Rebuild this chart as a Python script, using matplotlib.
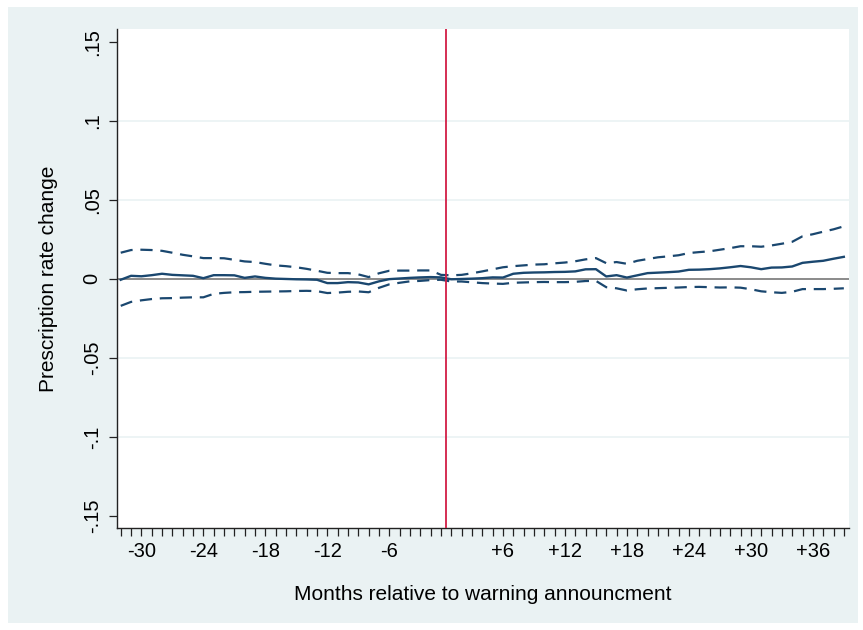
import matplotlib
matplotlib.use("Agg")
import matplotlib.pyplot as plt
from matplotlib.patches import Rectangle

# Event-study estimates by month relative to the warning (month 0 omitted)
months = list(range(-32, 0)) + list(range(1, 40))

coef = [-0.0006, 0.0019, 0.0016, 0.0023, 0.0032, 0.0025, 0.0022, 0.0019,
        0.0004, 0.0023, 0.0023, 0.0022, 0.0006, 0.0015, 0.0006, 0.0001,
        -0.0001, -0.0003, -0.0004, -0.0006, -0.0027, -0.0027, -0.0021, -0.0023,
        -0.0035, -0.0016, -0.0002, 0.0002, 0.0006, 0.0009, 0.0011, 0.0009,
        -0.0003, -0.0001, 0.0001, 0.0004, 0.0009, 0.0008, 0.0032, 0.0038,
        0.0040, 0.0041, 0.0043, 0.0044, 0.0047, 0.0060, 0.0061, 0.0015,
        0.0023, 0.0008, 0.0022, 0.0036, 0.0039, 0.0042, 0.0046, 0.0057,
        0.0058, 0.0061, 0.0066, 0.0073, 0.0081, 0.0073, 0.0061, 0.0071,
        0.0072, 0.0078, 0.0101, 0.0108, 0.0114, 0.0127, 0.0139]

ci_upper = [0.0165, 0.0182, 0.0184, 0.0182, 0.0177, 0.0165, 0.0152, 0.0142,
            0.0131, 0.0131, 0.0130, 0.0120, 0.0110, 0.0106, 0.0095, 0.0085,
            0.0080, 0.0073, 0.0063, 0.0051, 0.0038, 0.0036, 0.0036, 0.0028,
            0.0011, 0.0035, 0.0051, 0.0052, 0.0052, 0.0053, 0.0053, 0.0025,
            0.0022, 0.0025, 0.0035, 0.0047, 0.0060, 0.0073, 0.0080, 0.0085,
            0.0090, 0.0092, 0.0098, 0.0103, 0.0111, 0.0123, 0.0131, 0.0099,
            0.0106, 0.0095, 0.0114, 0.0125, 0.0136, 0.0142, 0.0149, 0.0163,
            0.0169, 0.0174, 0.0184, 0.0194, 0.0206, 0.0206, 0.0203, 0.0211,
            0.0222, 0.0234, 0.0269, 0.0282, 0.0298, 0.0313, 0.0332]

ci_lower = [-0.0171, -0.0146, -0.0136, -0.0128, -0.0123, -0.0122, -0.0119, -0.0117,
            -0.0117, -0.0095, -0.0089, -0.0085, -0.0084, -0.0082, -0.0081, -0.0080,
            -0.0079, -0.0077, -0.0076, -0.0078, -0.0090, -0.0087, -0.0082, -0.0080,
            -0.0085, -0.0057, -0.0035, -0.0025, -0.0016, -0.0013, -0.0008, -0.0006,
            -0.0017, -0.0017, -0.0022, -0.0027, -0.0030, -0.0032, -0.0025, -0.0023,
            -0.0021, -0.0020, -0.0021, -0.0021, -0.0019, -0.0014, -0.0013, -0.0053,
            -0.0060, -0.0074, -0.0066, -0.0061, -0.0059, -0.0057, -0.0055, -0.0052,
            -0.0051, -0.0053, -0.0055, -0.0054, -0.0056, -0.0066, -0.0079, -0.0085,
            -0.0089, -0.0082, -0.0065, -0.0065, -0.0065, -0.0063, -0.0060]

labelled_months = [-30, -24, -18, -12, -6, 6, 12, 18, 24, 30, 36]
y_ticks = [-0.15, -0.1, -0.05, 0, 0.05, 0.1, 0.15]
y_ticklabels = ["-.15", "-.1", "-.05", "0", ".05", ".1", ".15"]

# Month 0 is the omitted reference: months sit on consecutive slots
pos = [m if m < 0 else m - 1 for m in months]

NAVY = "#1A476F"
BG = "#EAF2F3"

plt.rcParams["font.family"] = ["Liberation Sans", "DejaVu Sans"]

fig = plt.figure(figsize=(8.63, 6.30), dpi=100, facecolor="white")
fig.patches.append(Rectangle((8 / 863, 7 / 630), (858 - 8) / 863, (623 - 7) / 630,
                             transform=fig.transFigure, facecolor=BG,
                             edgecolor="none", zorder=-10))

ax = fig.add_axes([117 / 863, (630 - 528) / 630, (849 - 117) / 863, (528 - 29) / 630])
ax.set_facecolor("white")

for yv in [-0.1, -0.05, 0.05, 0.1]:
    ax.axhline(yv, color=BG, lw=1.2, zorder=0)
ax.axhline(0, color="#8A8A8A", lw=1.4, zorder=1)

ax.plot(pos, ci_upper, color=NAVY, lw=1.6, dashes=(5.5, 3.5), zorder=3)
ax.plot(pos, ci_lower, color=NAVY, lw=1.6, dashes=(5.5, 3.5), zorder=3)
ax.plot(pos, coef, color=NAVY, lw=1.7, zorder=4)

ax.axvline(-0.5, color="#D21E45", lw=1.3, zorder=5)

ax.set_xlim(-32.36, 38.5)
ax.set_ylim(-0.1576, 0.158)

ax.set_xticks(pos)
ax.set_xticklabels([("+%d" % m if m > 0 else "%d" % m) if m in labelled_months else ""
                    for m in months])
ax.set_yticks(y_ticks)
ax.set_yticklabels(y_ticklabels, rotation=90, va="center")

ax.tick_params(axis="x", length=6, width=0.9, pad=4, labelsize=14.5, color="#222222")
ax.tick_params(axis="y", length=6, width=0.9, pad=5, labelsize=14.5, color="#222222")

for side in ["top", "right"]:
    ax.spines[side].set_visible(False)
for side in ["left", "bottom"]:
    ax.spines[side].set_linewidth(1.0)
    ax.spines[side].set_color("#222222")

ax.set_xlabel("Months relative to warning announcment", fontsize=15, labelpad=17)
ax.set_ylabel("Prescription rate change", fontsize=15, labelpad=18)

fig.savefig("out.png", dpi=100, facecolor="white")
